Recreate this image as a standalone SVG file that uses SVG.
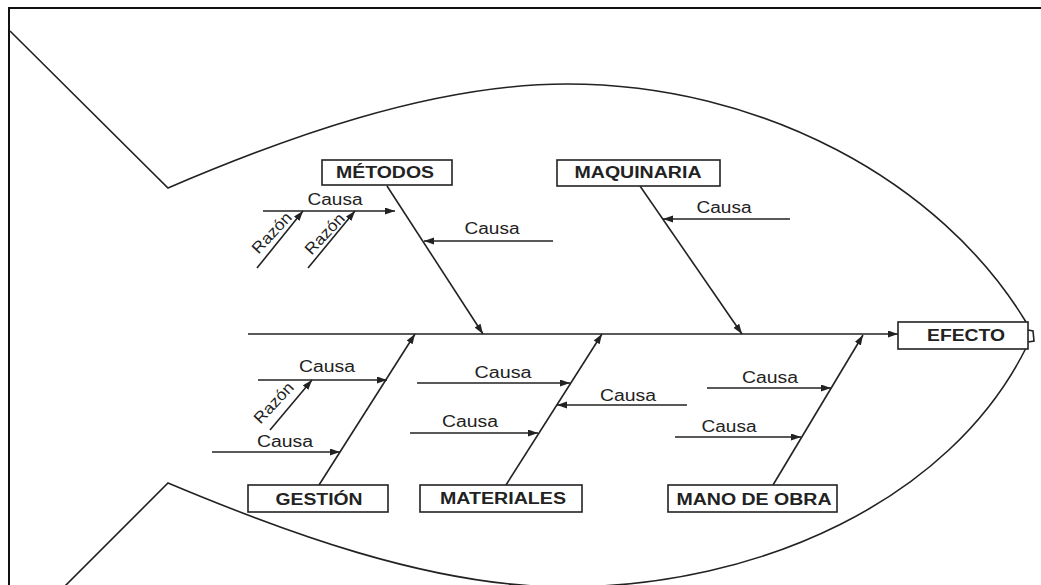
<svg xmlns="http://www.w3.org/2000/svg" width="1041" height="585" viewBox="0 0 1041 585">
<defs>
<marker id="ah" markerUnits="userSpaceOnUse" markerWidth="11" markerHeight="8" refX="10" refY="3.5" orient="auto">
<path d="M0,0 L10,3.5 L0,7 z" fill="#222"/>
</marker>
<style>
.ln{stroke:#222;stroke-width:1.6;fill:none}
.ar{stroke:#222;stroke-width:1.6;fill:none;marker-end:url(#ah)}
.box{fill:#fff;stroke:#222;stroke-width:1.6}
.lb{font-family:"Liberation Sans",Arial,sans-serif;font-weight:bold;font-size:16px;fill:#222;text-anchor:middle}
.ca{font-family:"Liberation Sans",Arial,sans-serif;font-size:16px;fill:#222;text-anchor:middle}
</style>
</defs>
<rect x="0" y="0" width="1041" height="585" fill="#fff"/>
<rect x="9" y="8" width="1040" height="590" fill="none" stroke="#111" stroke-width="2"/>
<g id="fish">
<path class="ln" d="M10,31 L168,188 C280,140 430,84 567,84 C760,84 940,180 1026,322"/>
<path class="ln" d="M65,586 L168,483 C280,530 430,587 565,587 C760,587 950,500 1026,348"/>
<path class="ln" d="M1028,330 L1033,331 L1034,341 L1028,342"/>
</g>
<g id="connectors">
<line class="ar" x1="248" y1="334" x2="898" y2="334"/>
<line class="ar" x1="387" y1="186" x2="483" y2="334"/>
<line class="ar" x1="640" y1="186" x2="742" y2="334"/>
<line class="ar" x1="319" y1="485" x2="415" y2="334"/>
<line class="ar" x1="506" y1="485" x2="602" y2="334"/>
<line class="ar" x1="773" y1="485" x2="863" y2="335"/>
<line class="ar" x1="263" y1="211" x2="395" y2="211"/>
<line class="ar" x1="257" y1="268" x2="303" y2="211"/>
<line class="ar" x1="308" y1="268" x2="355" y2="211"/>
<line class="ar" x1="553" y1="241" x2="424" y2="241"/>
<line class="ar" x1="790" y1="219" x2="663" y2="219"/>
<line class="ar" x1="258" y1="380" x2="387" y2="380"/>
<line class="ar" x1="270" y1="430" x2="312" y2="380"/>
<line class="ar" x1="212" y1="452" x2="340" y2="452"/>
<line class="ar" x1="417" y1="383" x2="570" y2="383"/>
<line class="ar" x1="687" y1="405" x2="557" y2="405"/>
<line class="ar" x1="410" y1="433" x2="538" y2="433"/>
<line class="ar" x1="707" y1="388" x2="831" y2="388"/>
<line class="ar" x1="675" y1="437" x2="801" y2="437"/>
</g>
<g id="causa-labels">
<text class="ca" x="335" y="205" textLength="55" lengthAdjust="spacingAndGlyphs">Causa</text>
<text class="ca" x="492" y="234" textLength="55" lengthAdjust="spacingAndGlyphs">Causa</text>
<text class="ca" x="724" y="213" textLength="55" lengthAdjust="spacingAndGlyphs">Causa</text>
<text class="ca" x="327" y="372" textLength="56" lengthAdjust="spacingAndGlyphs">Causa</text>
<text class="ca" x="285" y="447" textLength="56" lengthAdjust="spacingAndGlyphs">Causa</text>
<text class="ca" x="503" y="378" textLength="57" lengthAdjust="spacingAndGlyphs">Causa</text>
<text class="ca" x="628" y="401" textLength="56" lengthAdjust="spacingAndGlyphs">Causa</text>
<text class="ca" x="470" y="427" textLength="56" lengthAdjust="spacingAndGlyphs">Causa</text>
<text class="ca" x="770" y="383" textLength="56" lengthAdjust="spacingAndGlyphs">Causa</text>
<text class="ca" x="729" y="432" textLength="55" lengthAdjust="spacingAndGlyphs">Causa</text>
<text class="ca" transform="translate(272,233) rotate(-47)" x="0" y="5" textLength="50" lengthAdjust="spacingAndGlyphs">Razón</text>
<text class="ca" transform="translate(325,234) rotate(-47)" x="0" y="5" textLength="50" lengthAdjust="spacingAndGlyphs">Razón</text>
<text class="ca" transform="translate(274,403) rotate(-47)" x="0" y="5" textLength="50" lengthAdjust="spacingAndGlyphs">Razón</text>
</g>
<g id="metodos">
<rect class="box" x="322" y="160" width="130" height="25"/>
<text class="lb" x="385" y="178" textLength="98" lengthAdjust="spacingAndGlyphs">MÉTODOS</text>
</g>
<g id="maquinaria">
<rect class="box" x="557" y="160" width="163" height="26"/>
<text class="lb" x="638" y="178" textLength="127" lengthAdjust="spacingAndGlyphs">MAQUINARIA</text>
</g>
<g id="efecto">
<rect class="box" x="898" y="322" width="130" height="27"/>
<text class="lb" x="966" y="341" textLength="78" lengthAdjust="spacingAndGlyphs">EFECTO</text>
</g>
<g id="gestion">
<rect class="box" x="248" y="485" width="140" height="27"/>
<text class="lb" x="319" y="505" textLength="87" lengthAdjust="spacingAndGlyphs">GESTIÓN</text>
</g>
<g id="materiales">
<rect class="box" x="420" y="485" width="162" height="27"/>
<text class="lb" x="503" y="504" textLength="126" lengthAdjust="spacingAndGlyphs">MATERIALES</text>
</g>
<g id="mano-de-obra">
<rect class="box" x="668" y="485" width="169" height="27"/>
<text class="lb" x="754" y="505" textLength="155" lengthAdjust="spacingAndGlyphs">MANO DE OBRA</text>
</g>
</svg>
